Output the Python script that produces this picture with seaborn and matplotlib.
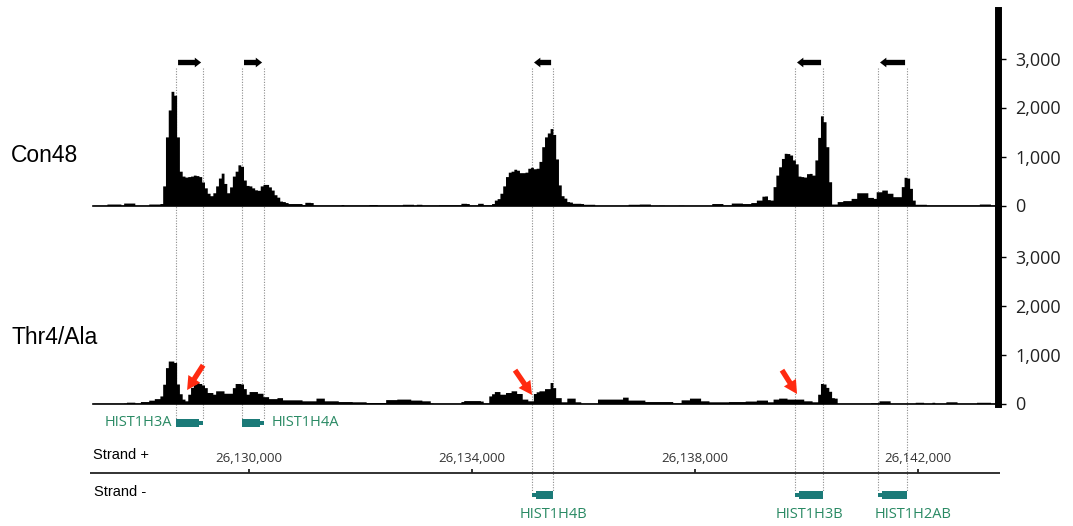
import numpy as np
import pandas as pd
import matplotlib
matplotlib.use("Agg")
import matplotlib.pyplot as plt
from matplotlib.patches import Rectangle
import seaborn as sns

sns.set_theme(style="white")
plt.rcParams["font.family"] = ["Open Sans", "DejaVu Sans"]

# ---------------- data ----------------
region_start = 26127200
bin_size = 50
view_end = 26143435

con48_rows = [
    [5, 5, 5, 5, 5, 30, 30, 30, 30, 30, 10, 50, 50, 50, 50, 5, 5, 5, 5, 5],
    [30, 30, 30, 30, 40, 400, 1400, 1950, 2330, 2250, 1400, 700, 600, 580, 590, 600, 620, 610, 590, 480],
    [360, 250, 200, 260, 400, 560, 660, 450, 260, 380, 600, 700, 830, 800, 520, 410, 400, 360, 320, 310],
    [400, 430, 430, 380, 315, 220, 170, 90, 80, 60, 40, 40, 40, 40, 40, 20, 65, 65, 60, 10],
    [8, 8, 8, 8, 8, 8, 8, 8, 8, 20, 8, 8, 8, 8, 8, 8, 8, 8, 8, 20],
    [20, 20, 8, 8, 8, 8, 8, 8, 8, 8, 8, 25, 25, 25, 25, 8, 25, 25, 8, 8],
    [8, 8, 8, 8, 15, 15, 15, 15, 15, 15, 15, 15, 45, 45, 40, 10, 10, 10, 45, 45],
    [15, 15, 15, 40, 110, 140, 250, 400, 590, 680, 700, 740, 720, 670, 670, 680, 760, 780, 750, 760],
    [900, 1200, 1400, 1480, 1570, 1450, 950, 420, 200, 150, 80, 70, 45, 45, 45, 40, 25, 25, 25, 25],
    [5, 5, 5, 5, 5, 5, 5, 5, 5, 5, 5, 5, 25, 25, 25, 25, 30, 30, 30, 30],
    [5, 5, 5, 8, 8, 5, 5, 5, 5, 5, 8, 8, 5, 5, 5, 5, 5, 5, 5, 5],
    [5, 5, 40, 40, 40, 40, 10, 10, 10, 50, 50, 50, 50, 40, 40, 40, 60, 60, 110, 110],
    [190, 195, 120, 110, 385, 620, 790, 960, 1065, 1060, 1030, 930, 850, 600, 590, 580, 650, 655, 620, 930],
    [1390, 1830, 1710, 1200, 485, 30, 30, 80, 80, 100, 100, 100, 145, 145, 260, 260, 260, 260, 165, 165],
    [145, 280, 280, 315, 315, 250, 250, 180, 180, 180, 385, 575, 560, 350, 110, 25, 25, 25, 25, 10],
    [8, 8, 8, 8, 8, 8, 8, 8, 8, 8, 8, 8, 8, 8, 8, 8, 8, 8, 30, 30],
    [30, 30, 10, 10],
]

thr4ala_rows = [
    [5, 5, 5, 5, 5, 5, 5, 5, 5, 5, 5, 10, 27, 27, 27, 10, 10, 40, 40, 40],
    [68, 68, 100, 100, 155, 395, 735, 870, 870, 840, 400, 200, 90, 55, 190, 330, 400, 430, 410, 380],
    [325, 225, 225, 190, 260, 260, 260, 210, 210, 210, 325, 410, 410, 400, 305, 190, 245, 245, 245, 210],
    [210, 140, 140, 100, 100, 100, 120, 120, 75, 75, 75, 75, 75, 75, 75, 55, 55, 55, 55, 55],
    [110, 110, 110, 55, 55, 55, 55, 55, 40, 40, 40, 40, 40, 35, 35, 35, 35, 35, 20, 20],
    [20, 20, 20, 20, 20, 80, 80, 80, 80, 90, 90, 90, 90, 90, 70, 70, 70, 70, 55, 55],
    [55, 10, 5, 5, 5, 5, 5, 5, 5, 5, 5, 5, 40, 60, 60, 60, 60, 60, 60, 50],
    [10, 10, 155, 200, 245, 245, 190, 190, 225, 225, 260, 260, 205, 205, 90, 90, 55, 55, 205, 240],
    [260, 260, 305, 305, 430, 325, 120, 120, 35, 35, 110, 110, 110, 35, 35, 5, 5, 5, 5, 5],
    [5, 90, 90, 90, 90, 90, 90, 90, 90, 90, 130, 130, 70, 70, 70, 70, 70, 70, 40, 40],
    [40, 40, 40, 40, 40, 40, 40, 40, 10, 10, 10, 75, 75, 75, 110, 110, 110, 110, 55, 55],
    [55, 35, 35, 35, 35, 35, 35, 35, 40, 40, 40, 40, 40, 40, 50, 50, 50, 50, 70, 70],
    [70, 70, 35, 35, 90, 90, 110, 110, 110, 90, 90, 90, 90, 90, 90, 55, 55, 55, 35, 35],
    [190, 410, 400, 330, 250, 120, 110, 5, 5, 5, 5, 5, 5, 5, 5, 5, 5, 5, 5, 15],
    [15, 15, 55, 55, 55, 55, 5, 5, 5, 5, 5, 5, 5, 5, 5, 25, 25, 25, 5, 5],
    [5, 25, 5, 5, 5, 5, 35, 35, 35, 35, 5, 5, 5, 5, 5, 5, 5, 25, 25, 25],
    [25, 25, 5, 5],
]

con48_coverage = [v for row in con48_rows for v in row]
thr4ala_coverage = [v for row in thr4ala_rows for v in row]

track_names = ["Con48", "Thr4/Ala"]

gene_names = ["HIST1H3A", "HIST1H4A", "HIST1H4B", "HIST1H3B", "HIST1H2AB"]
gene_starts = [26128691, 26129874, 26135076, 26139794, 26141283]
gene_ends = [26129175, 26130269, 26135453, 26140296, 26141803]
gene_strands = ["+", "+", "-", "-", "-"]

axis_ticks = [26130000, 26134000, 26138000, 26142000]
y_ticks = [0, 1000, 2000, 3000]

# red arrows in Thr4/Ala track: (position, coverage) of tail and tip
red_arrow_tails = [(26129175, 785), (26134771, 683), (26139560, 683)]
red_arrow_tips = [(26128888, 275), (26135076, 175), (26139830, 195)]

# ---------------- layout ----------------
W, H = 1073, 526
fig = plt.figure(figsize=(W / 100, H / 100), dpi=100, facecolor="white")
L, R = 93, 998

ov = fig.add_axes([L / W, 0, (R - L) / W, 1], zorder=1)
ov.set_xlim(region_start, view_end)
ov.set_ylim(H, 0)
ov.axis("off")
ov.patch.set_alpha(0)

track_px = [(9.5, 205.5), (208.3, 403.5)]
label_y = [155, 338]
coverages = [con48_coverage, thr4ala_coverage]
track_axes = []
for name, cov, (top, bot), ly in zip(track_names, coverages, track_px, label_y):
    ax = fig.add_axes([L / W, 1 - bot / H, (R - L) / W, (bot - top) / H], zorder=2)
    ax.patch.set_alpha(0)
    cov = np.asarray(cov, dtype=float)
    n = len(cov)
    df = pd.DataFrame({"pos": region_start + np.arange(n) * bin_size + bin_size / 2,
                       "cov": cov})
    sns.histplot(data=df, x="pos", weights="cov", binwidth=bin_size,
                 binrange=(region_start, region_start + n * bin_size),
                 element="step", fill=True, color="black", alpha=1,
                 linewidth=0, ax=ax)
    ax.set_xlim(region_start, view_end)
    ax.set_ylim(0, 4000)
    ax.set_xlabel("")
    ax.set_ylabel("")
    ax.set_xticks([])
    ax.grid(False)
    for sp in ["top", "left"]:
        ax.spines[sp].set_visible(False)
    ax.spines["bottom"].set_linewidth(1.2)
    ax.spines["bottom"].set_color("black")
    ax.spines["right"].set_linewidth(5)
    ax.spines["right"].set_color("black")
    ax.yaxis.tick_right()
    ax.set_yticks(y_ticks)
    ax.set_yticklabels([f"{v:,}" for v in y_ticks])
    ax.tick_params(axis="y", right=True, left=False, length=5.5, width=1,
                   pad=7, labelsize=13, labelcolor="#222222", color="black")
    fig.text(11 / W, 1 - ly / H, name, fontsize=16.5, family=["Liberation Sans"],
             va="center", ha="left", color="black")
    track_axes.append(ax)

# red arrows
for tail, tip in zip(red_arrow_tails, red_arrow_tips):
    track_axes[1].annotate("", xy=tip, xytext=tail,
                           arrowprops=dict(arrowstyle="simple,head_length=0.8,head_width=0.85,tail_width=0.32",
                                           fc="#ff2a10", ec="none", mutation_scale=12,
                                           shrinkA=0, shrinkB=0),
                           annotation_clip=False)

# genes
box_color = "#1b7a78"
text_color = "#2a8a64"
narrow_bp = 65
label_place = {"HIST1H3A": ("left", 0), "HIST1H4A": ("right", 0),
               "HIST1H4B": ("below", 190), "HIST1H3B": ("below", 0),
               "HIST1H2AB": ("below", 370)}
for name, s, e, strand in zip(gene_names, gene_starts, gene_ends, gene_strands):
    yc = 423 if strand == "+" else 495
    bh, nh = 7.5, 4.5
    if strand == "+":
        ov.add_patch(Rectangle((s, yc - bh / 2), (e - narrow_bp) - s, bh, fc=box_color, ec="none"))
        ov.add_patch(Rectangle((e - narrow_bp, yc - nh / 2), narrow_bp, nh, fc=box_color, ec="none"))
    else:
        ov.add_patch(Rectangle((s, yc - nh / 2), narrow_bp, nh, fc=box_color, ec="none"))
        ov.add_patch(Rectangle((s + narrow_bp, yc - bh / 2), e - (s + narrow_bp), bh, fc=box_color, ec="none"))
    # dotted guide lines
    ov.vlines([s, e], 68, yc - bh / 2, colors="#8c8c8c", linestyles=(0, (1, 1.4)), lw=0.8)
    # direction arrows at top
    inset = 35
    tail, tip = (s + inset, e - inset) if strand == "+" else (e - inset, s + inset)
    ov.annotate("", xy=(tip, 62.5), xytext=(tail, 62.5),
                arrowprops=dict(arrowstyle="simple,head_length=0.38,head_width=0.58,tail_width=0.32",
                                fc="black", ec="none", mutation_scale=12, shrinkA=0, shrinkB=0))
    side, off = label_place[name]
    if side == "left":
        ov.text(s - 75, yc - 0.5, name, ha="right", va="center", fontsize=10.5, color=text_color)
    elif side == "right":
        ov.text(e + 140, yc - 0.5, name, ha="left", va="center", fontsize=10.5, color=text_color)
    else:
        ov.text((s + e) / 2 + off, 515, name, ha="center", va="center", fontsize=10.5, color=text_color)

# coordinate axis
ov.plot([region_start - 55, view_end + 35], [473, 473], color="#222222", lw=1.3,
        clip_on=False, solid_capstyle="butt")
ov.vlines(axis_ticks, 468.5, 473, colors="#222222", lw=1.3)
for t in axis_ticks:
    ov.text(t, 459, f"{t:,}", ha="center", va="center", fontsize=9.5, color="#333333")

ov.text(region_start, 455, "Strand +", ha="left", va="center", fontsize=10.5,
        family=["Liberation Sans"], color="black")
ov.text(region_start + 10, 492, "Strand -", ha="left", va="center", fontsize=10.5,
        family=["Liberation Sans"], color="black")

fig.savefig("out.png", dpi=100, facecolor="white")
